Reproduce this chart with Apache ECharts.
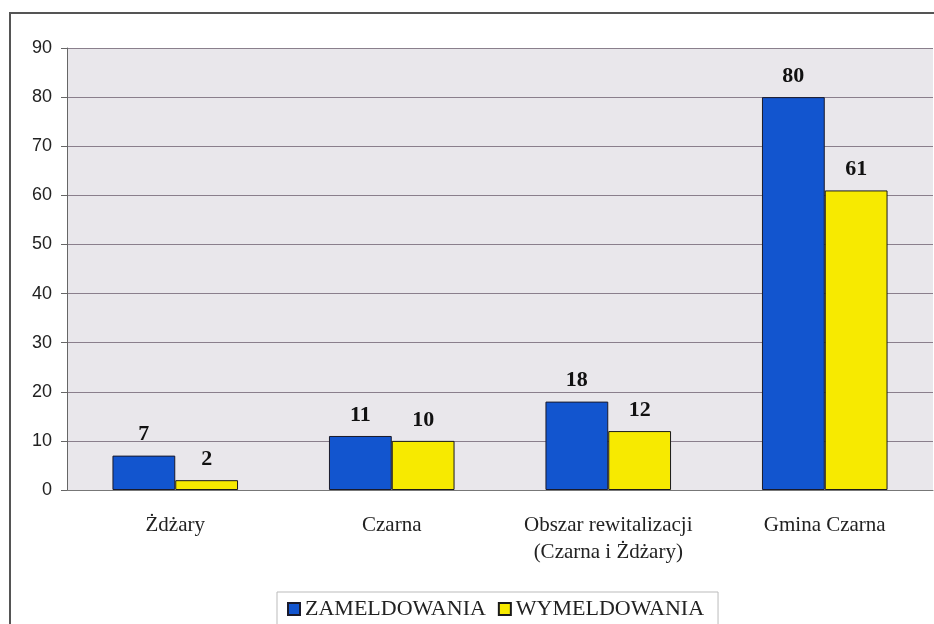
<!DOCTYPE html>
<html>
<head>
  <meta charset="UTF-8">
  <title>Zameldowania i wymeldowania</title>
  <style>
    html, body { margin: 0; padding: 0; background: #fff; overflow: hidden; }
    #frame { position: absolute; left: 9px; top: 12px; width: 960px; height: 660px; border: 2px solid #555; box-sizing: border-box; }
    #chart { position: absolute; left: 0; top: 0; width: 934px; height: 624px; }
  </style>
  <script src="https://cdn.jsdelivr.net/npm/echarts@6/dist/echarts.min.js"></script>
</head>
<body>
  <div id="frame"></div>
  <div id="chart"></div>
  <script>
// dane
const categories = ['Żdżary', 'Czarna', 'Obszar rewitalizacji\n(Czarna i Żdżary)', 'Gmina Czarna']
const zameldowania = [7, 11, 18, 80]
const wymeldowania = [2, 10, 12, 61]
const yTicks = { min: 0, max: 90, interval: 10 }

const serif = '"Liberation Serif", "DejaVu Serif", serif'
const chart = echarts.init(document.getElementById('chart'))
const barLabel = {
  show: true,
  position: 'top',
  distance: 10,
  fontFamily: serif,
  fontWeight: 'bold',
  fontSize: 22,
  color: '#111'
}
chart.setOption({
  animation: false,
  grid: { left: 67, right: 1, top: 48, bottom: 134, backgroundColor: '#e9e7eb', show: true, borderWidth: 0 },
  legend: {
    bottom: -12,
    left: 277,
    itemWidth: 12,
    itemHeight: 12,
    itemGap: 12,
    padding: [6, 14, 16, 10],
    borderColor: '#bbb',
    borderWidth: 1,
    icon: 'rect',
    textStyle: { fontFamily: serif, fontSize: 22, color: '#222' },
    data: ['ZAMELDOWANIA', 'WYMELDOWANIA']
  },
  xAxis: {
    type: 'category',
    data: categories,
    axisLine: { lineStyle: { color: '#777' } },
    axisTick: { length: 5, lineStyle: { color: '#777' } },
    axisLabel: { interval: 0, margin: 22, fontFamily: serif, fontSize: 21, lineHeight: 27, color: '#222' }
  },
  yAxis: {
    type: 'value',
    min: yTicks.min,
    max: yTicks.max,
    interval: yTicks.interval,
    axisLine: { show: true, lineStyle: { color: '#666' } },
    axisTick: { show: true, length: 6, lineStyle: { color: '#666' } },
    axisLabel: { margin: 15, fontFamily: '"Liberation Sans", Arial, sans-serif', fontSize: 18, color: '#222' },
    splitLine: { lineStyle: { color: '#8a7f8c', width: 1 } }
  },
  series: [
    {
      name: 'ZAMELDOWANIA',
      type: 'bar',
      data: zameldowania,
      barGap: '0%',
      barCategoryGap: '42%',
      itemStyle: { color: '#1255cf', borderColor: '#1a1a2a', borderWidth: 1 },
      label: barLabel
    },
    {
      name: 'WYMELDOWANIA',
      type: 'bar',
      data: wymeldowania,
      itemStyle: { color: '#f7ea00', borderColor: '#1a1a1a', borderWidth: 1 },
      label: barLabel
    }
  ]
})
  </script>
</body>
</html>
